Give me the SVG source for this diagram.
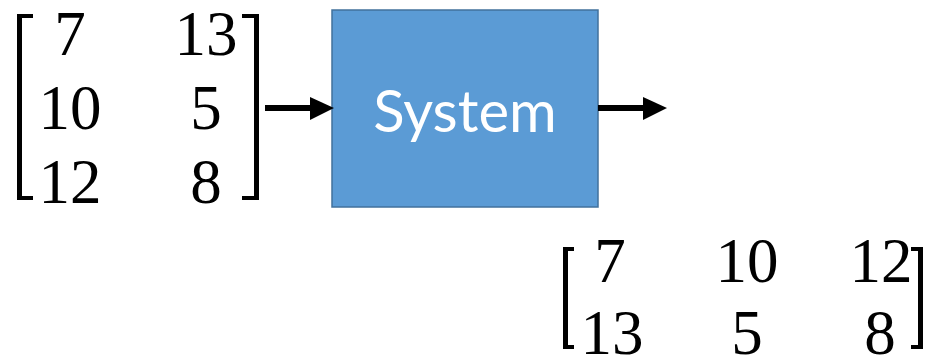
<svg xmlns="http://www.w3.org/2000/svg" width="936" height="358" viewBox="0 0 936 358">
  <style>
    .num { font-family: "Liberation Serif", "DejaVu Serif", serif; font-size: 63px; fill: #000; text-anchor: middle; }
    .label { font-family: Lato, "Open Sans", "Liberation Sans", sans-serif; font-size: 58px; fill: #fff; text-anchor: middle; }
    .bracket { fill: #000; }
    .wire { stroke: #000; stroke-width: 6; fill: none; }
    .head { fill: #000; }
  </style>

  <!-- input matrix (3x2) -->
  <g id="input-matrix">
    <path class="bracket" d="M17 14 H33 V18 H22 V196 H33 V200 H17 Z"/>
    <path class="bracket" d="M259 14 H242 V18 H254 V196 H242 V200 H259 Z"/>
    <text class="num" x="70" y="55">7</text>
    <text class="num" x="206" y="55">13</text>
    <text class="num" x="70" y="129">10</text>
    <text class="num" x="206" y="129">5</text>
    <text class="num" x="70" y="203">12</text>
    <text class="num" x="206" y="203">8</text>
  </g>

  <!-- processing block -->
  <g id="system">
    <rect x="332" y="10" width="266" height="197" fill="#5B9BD5" stroke="#41719C" stroke-width="1.5"/>
    <text class="label" x="465" y="132">System</text>
  </g>

  <!-- output matrix (2x3, transposed) -->
  <g id="output-matrix">
    <path class="bracket" d="M563 247 H574 V251 H568 V345 H574 V349 H563 Z"/>
    <path class="bracket" d="M923 247 H911 V251 H918 V345 H911 V349 H923 Z"/>
    <text class="num" x="610" y="282">7</text>
    <text class="num" x="747" y="282">10</text>
    <text class="num" x="881" y="282">12</text>
    <text class="num" x="612" y="354">13</text>
    <text class="num" x="747" y="354">5</text>
    <text class="num" x="880" y="354">8</text>
  </g>

  <!-- connectors -->
  <g id="connectors">
    <line class="wire" x1="265" y1="108" x2="312" y2="108"/>
    <path class="head" d="M310 97 L334 108 L310 120 Z"/>
    <line class="wire" x1="598" y1="108" x2="645" y2="108"/>
    <path class="head" d="M643 97 L667 108 L643 120 Z"/>
  </g>
</svg>
